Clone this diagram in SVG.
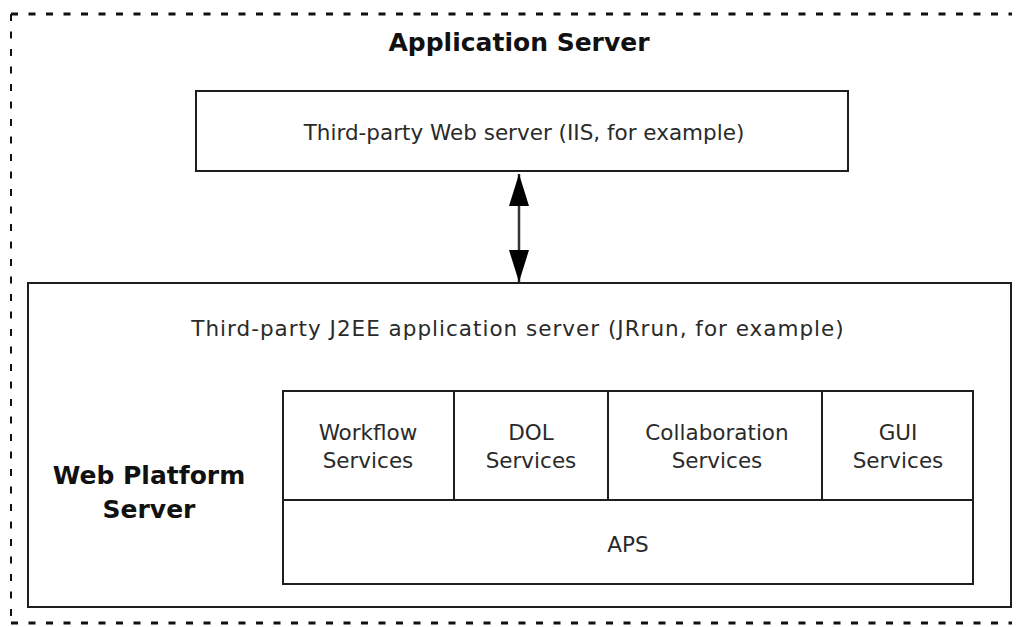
<svg xmlns="http://www.w3.org/2000/svg" width="1021" height="627" viewBox="0 0 1021 627">
  <style>
    .box { fill: none; stroke: #1e1e1e; stroke-width: 2; }
    .frame { fill: none; stroke: #111; stroke-dasharray: 7 10.5; }
    .lbl { font-family: "DejaVu Sans", Verdana, sans-serif; font-size: 21.5px; fill: #2a2a2a; text-anchor: middle; }
    .ttl { font-family: "DejaVu Sans", Verdana, sans-serif; font-weight: bold; font-size: 25px; fill: #111; text-anchor: middle; }
    .conn { stroke: #333; stroke-width: 2.5; fill: none; }
  </style>
  <defs>
    <marker id="head" viewBox="0 0 32 20" refX="32" refY="10" markerWidth="32" markerHeight="20" markerUnits="userSpaceOnUse" orient="auto-start-reverse">
      <path d="M0,0 L32,10 L0,20 Z" fill="#000"/>
    </marker>
  </defs>
  <rect width="1021" height="627" fill="#fff"/>

  <!-- dashed application server frame (open on the right) -->
  <g id="app-server">
    <line class="frame" x1="11" y1="14" x2="1012" y2="14" stroke-width="3"/>
    <line class="frame" x1="11" y1="14" x2="11" y2="624" stroke-width="2"/>
    <line class="frame" x1="11" y1="623" x2="1012" y2="623" stroke-width="3"/>
    <text class="ttl" x="519" y="51">Application Server</text>
  </g>

  <!-- third-party web server -->
  <g id="web-server">
    <rect class="box" x="196" y="91" width="652" height="80"/>
    <text class="lbl" x="524" y="140">Third-party Web server (IIS, for example)</text>
  </g>

  <!-- J2EE application server container -->
  <g id="j2ee-server">
    <rect class="box" x="28" y="283" width="983" height="324"/>
    <text class="lbl" x="518" y="336" letter-spacing="1">Third-party J2EE application server (JRrun, for example)</text>
  </g>

  <g id="web-platform-label">
    <text class="ttl" x="149" y="484">Web Platform</text>
    <text class="ttl" x="149" y="518">Server</text>
  </g>

  <!-- services stack -->
  <g id="workflow">
    <rect class="box" x="283" y="391" width="171" height="109"/>
    <text class="lbl" x="368" y="440">Workflow</text>
    <text class="lbl" x="368" y="468">Services</text>
  </g>
  <g id="dol">
    <rect class="box" x="454" y="391" width="154" height="109"/>
    <text class="lbl" x="531" y="440">DOL</text>
    <text class="lbl" x="531" y="468">Services</text>
  </g>
  <g id="collaboration">
    <rect class="box" x="608" y="391" width="214" height="109"/>
    <text class="lbl" x="717" y="440">Collaboration</text>
    <text class="lbl" x="717" y="468">Services</text>
  </g>
  <g id="gui">
    <rect class="box" x="822" y="391" width="151" height="109"/>
    <text class="lbl" x="898" y="440">GUI</text>
    <text class="lbl" x="898" y="468">Services</text>
  </g>
  <g id="aps">
    <rect class="box" x="283" y="500" width="690" height="84"/>
    <text class="lbl" x="628" y="552">APS</text>
  </g>

  <!-- connectors -->
  <g id="connectors">
    <line class="conn" x1="519" y1="174" x2="519" y2="282" marker-start="url(#head)" marker-end="url(#head)"/>
  </g>
</svg>
